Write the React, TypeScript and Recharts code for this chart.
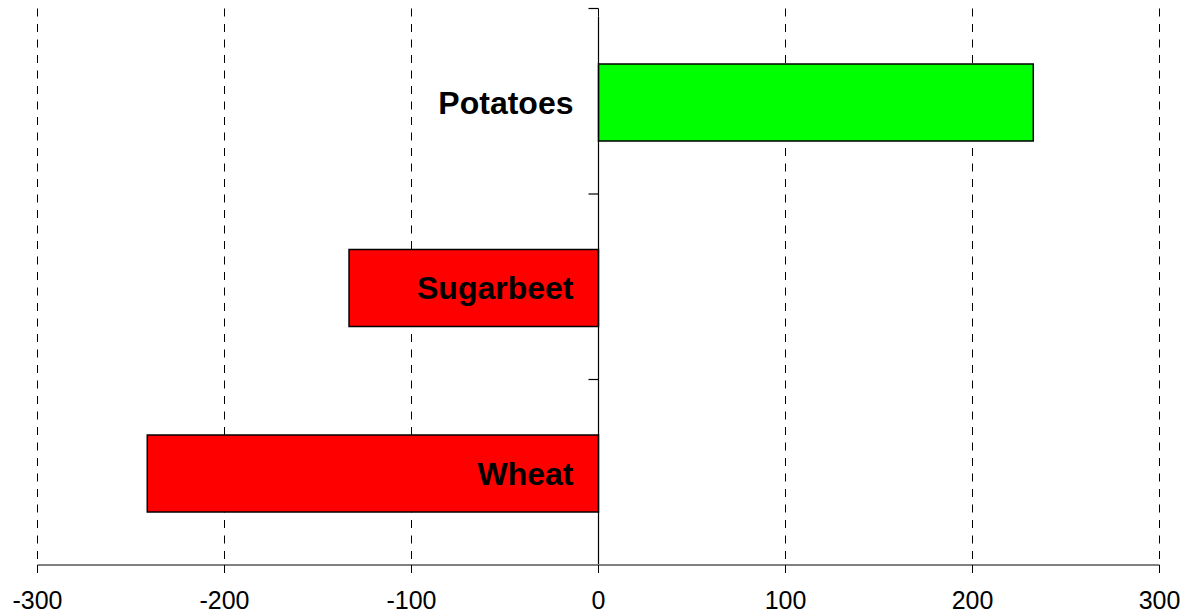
import { Bar, BarChart, CartesianGrid, Cell, LabelList, ReferenceLine, XAxis, YAxis } from "recharts";

const crops = ["Potatoes", "Sugarbeet", "Wheat"];
const changes = [232.5, -133.4, -241.3];
const barColors = ["#00ff00", "#ff0000", "#ff0000"];
const xTicks = [-300, -200, -100, 0, 100, 200, 300];

const data = crops.map((name, i) => ({ name, value: changes[i] }));

// vertical axis drawn at x = 0, with tick marks on category boundaries
const ZeroAxis = (props: any) => {
  const { x1, y1, y2 } = props;
  const n = crops.length;
  return (
    <g>
      <line x1={x1} y1={y1} x2={x1} y2={y2 + 8} stroke="#000" strokeWidth={1.2} />
      {Array.from({ length: n + 1 }, (_, i) => {
        const y = y1 + ((y2 - y1) * i) / n;
        return <line key={i} x1={x1 - 10} y1={y} x2={x1} y2={y} stroke="#000" strokeWidth={1.2} />;
      })}
    </g>
  );
};

// bars sit slightly below the band centre in the original
const ShiftedBar = (props: any) => {
  const { x, y, width, height, fill } = props;
  const left = Math.min(x, x + width);
  return (
    <rect
      x={left}
      y={y + 1.5}
      width={Math.abs(width)}
      height={height}
      fill={fill}
      stroke="#000"
      strokeWidth={1.5}
    />
  );
};

const CropLabel = (props: any) => {
  const vb = props.viewBox ?? props;
  const x = vb.x ?? props.x;
  const y = vb.y ?? props.y;
  const w = vb.width ?? props.width;
  const h = vb.height ?? props.height;
  const idx = props.index;
  const v = changes[idx];
  const zeroX = v >= 0 ? Math.min(x, x + w) : Math.max(x, x + w);
  return (
    <text
      x={zeroX - 25}
      y={y + h / 2 + 1.5}
      textAnchor="end"
      dominantBaseline="central"
      fontFamily="Arial, 'Liberation Sans', sans-serif"
      fontWeight="bold"
      fontSize={32}
      fill="#000"
    >
      {crops[idx]}
    </text>
  );
};

export default function App() {
  return (
    <div style={{ position: "absolute", left: 0, top: 0, background: "#fff" }}>
      <BarChart
        width={1186}
        height={615}
        data={data}
        layout="vertical"
        margin={{ top: 8.5, right: 26.5, left: 37.5, bottom: 0 }}
        barSize={77}
      >
        <CartesianGrid horizontal={false} stroke="#000" strokeDasharray="8 7.5" />
        <XAxis
          type="number"
          domain={[-300, 300]}
          ticks={xTicks}
          interval={0}
          height={50}
          axisLine={{ stroke: "#808080", strokeWidth: 2 }}
          tickLine={{ stroke: "#000" }}
          tickSize={8}
          tickMargin={18}
          tick={{ fill: "#000", fontSize: 25, fontFamily: "Arial, 'Liberation Sans', sans-serif" }}
        />
        <YAxis type="category" dataKey="name" hide />
        <Bar dataKey="value" isAnimationActive={false} shape={ShiftedBar}>
          {data.map((d, i) => (
            <Cell key={d.name} fill={barColors[i]} />
          ))}
          <LabelList dataKey="name" content={CropLabel} />
        </Bar>
        <ReferenceLine x={0} shape={ZeroAxis} />
      </BarChart>
    </div>
  );
}
